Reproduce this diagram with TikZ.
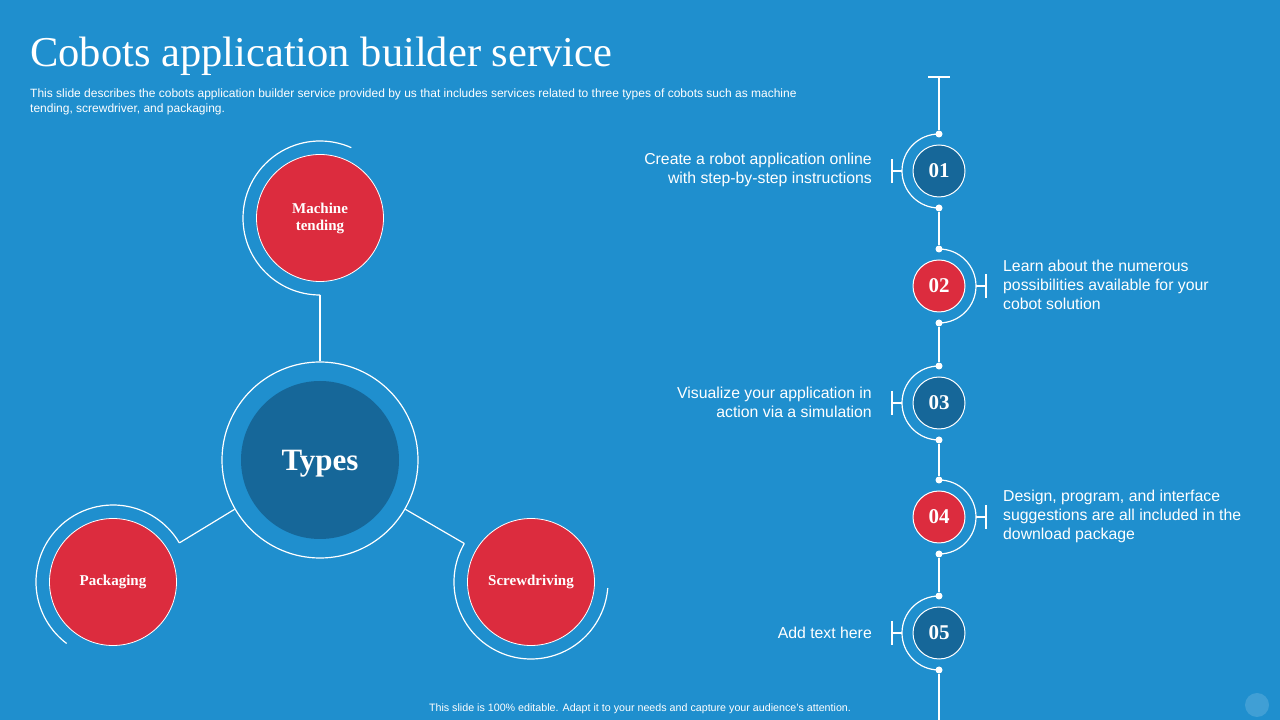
\documentclass[tikz,border=0pt]{standalone}
\usepackage{fontspec}
\setmainfont{Liberation Serif}
\setsansfont{Liberation Sans}
\usepackage{tikz}

\definecolor{slidebg}{RGB}{31,143,206}
\definecolor{darkblue}{RGB}{22,103,153}
\definecolor{cobotred}{RGB}{220,44,62}

\begin{document}
\begin{tikzpicture}[x=1pt,y=1pt,
  line/.style={white,line width=1.2pt},
  redcirc/.style={circle,fill=cobotred,draw=white,line width=0.8pt,minimum size=127pt,inner sep=0pt,
    text=white,align=center,font=\bfseries\fontsize{15}{17}\selectfont},
  numcirc/.style={circle,draw=white,line width=1pt,minimum size=52pt,inner sep=0pt,
    text=white,font=\bfseries\fontsize{21}{21}\selectfont},
  stepdot/.style={circle,fill=white,inner sep=0pt,minimum size=7pt},
  lefttext/.style={anchor=east,align=right,inner sep=0pt,text=white,font=\sffamily\fontsize{15.8}{19}\selectfont},
  righttext/.style={anchor=west,align=left,inner sep=0pt,text=white,font=\sffamily\fontsize{15.8}{19}\selectfont}]

  \fill[slidebg] (0,0) rectangle (1280,720);
  \useasboundingbox (0,0) rectangle (1280,720);
  \fill[white,opacity=0.15] (1257,15) circle[radius=12];

  \node[anchor=base west,inner sep=0pt,text=white,font=\fontsize{42.5}{42.5}\selectfont] (title) at (30,653)
    {Cobots application builder service};
  \node[anchor=north west,inner sep=0pt,align=left,text=white,font=\sffamily\fontsize{12}{15}\selectfont] (subtitle) at (30,631)
    {This slide describes the cobots application builder service provided by us that includes services related to three types of cobots such as machine\\
     tending, screwdriver, and packaging.};
  \node[text=white,font=\sffamily\fontsize{10.7}{12}\selectfont] (footer) at (640,11)
    {This slide is 100\% editable. Adapt it to your needs and capture your audience's attention.};

  \node[circle,draw=white,line width=1.2pt,minimum size=196pt] (typesring) at (320,260) {};
  \node[circle,fill=darkblue,minimum size=158pt,text depth=0pt,text=white,font=\bfseries\fontsize{31}{31}\selectfont] (types) at (320,260) {Types};

  \node[redcirc] (machine) at (320,502) {Machine\\tending};
  \node[redcirc] (pack) at (113,138) {Packaging};
  \node[redcirc] (screw) at (531,138) {Screwdriving};

  \draw[line] (machine) ++(270:77) coordinate (machinea) arc[start angle=270,end angle=66,radius=77];
  \draw[line] (machinea) -- (typesring.north);
  \draw[line] (pack) ++(233:77) arc[start angle=233,end angle=30.5,radius=77] coordinate (packa);
  \draw[line] (packa) -- (typesring.210.5);
  \draw[line] (screw) ++(150:77) coordinate (screwa) arc[start angle=150,end angle=355.5,radius=77];
  \draw[line] (screwa) -- (typesring.330);

  \coordinate (top) at (939,643);
  \coordinate (bottom) at (939,0);

  \node[numcirc,fill=darkblue] (s1) at (939,549) {01};
  \node[stepdot] (s1t) at (939,586) {};
  \node[stepdot] (s1b) at (939,512) {};
  \node[lefttext] (t1) at (872,550) {Create a robot application online\\with step-by-step instructions};

  \node[numcirc,fill=cobotred] (s2) at (939,434) {02};
  \node[stepdot] (s2t) at (939,471) {};
  \node[stepdot] (s2b) at (939,397) {};
  \node[righttext] (t2) at (1003,435) {Learn about the numerous\\possibilities available for your\\cobot solution};

  \node[numcirc,fill=darkblue] (s3) at (939,317) {03};
  \node[stepdot] (s3t) at (939,354) {};
  \node[stepdot] (s3b) at (939,280) {};
  \node[lefttext] (t3) at (872,318) {Visualize your application in\\action via a simulation};

  \node[numcirc,fill=cobotred] (s4) at (939,203) {04};
  \node[stepdot] (s4t) at (939,240) {};
  \node[stepdot] (s4b) at (939,166) {};
  \node[righttext] (t4) at (1003,204) {Design, program, and interface\\suggestions are all included in the\\download package};

  \node[numcirc,fill=darkblue] (s5) at (939,87) {05};
  \node[stepdot] (s5t) at (939,124) {};
  \node[stepdot] (s5b) at (939,50) {};
  \node[lefttext] (t5) at (872,87) {Add text here};

  \draw[line] ([xshift=-11pt]top) -- ([xshift=11pt]top);
  \draw[line] (top) -- (s1t);
  \draw[line] (s1b) -- (s2t);
  \draw[line] (s2b) -- (s3t);
  \draw[line] (s3b) -- (s4t);
  \draw[line] (s4b) -- (s5t);
  \draw[line] (s5b) -- (bottom);

  \draw[line] (s1t.center) arc[start angle=90,end angle=270,radius=37];
  \draw[line] (s2t.center) arc[start angle=90,end angle=-90,radius=37];
  \draw[line] (s3t.center) arc[start angle=90,end angle=270,radius=37];
  \draw[line] (s4t.center) arc[start angle=90,end angle=-90,radius=37];
  \draw[line] (s5t.center) arc[start angle=90,end angle=270,radius=37];

  \draw[line] ([xshift=-37pt]s1.center) -- ++(-10,0) ++(0,12) -- ++(0,-24);
  \draw[line] ([xshift=37pt]s2.center) -- ++(10,0) ++(0,12) -- ++(0,-24);
  \draw[line] ([xshift=-37pt]s3.center) -- ++(-10,0) ++(0,12) -- ++(0,-24);
  \draw[line] ([xshift=37pt]s4.center) -- ++(10,0) ++(0,12) -- ++(0,-24);
  \draw[line] ([xshift=-37pt]s5.center) -- ++(-10,0) ++(0,12) -- ++(0,-24);
\end{tikzpicture}
\end{document}
